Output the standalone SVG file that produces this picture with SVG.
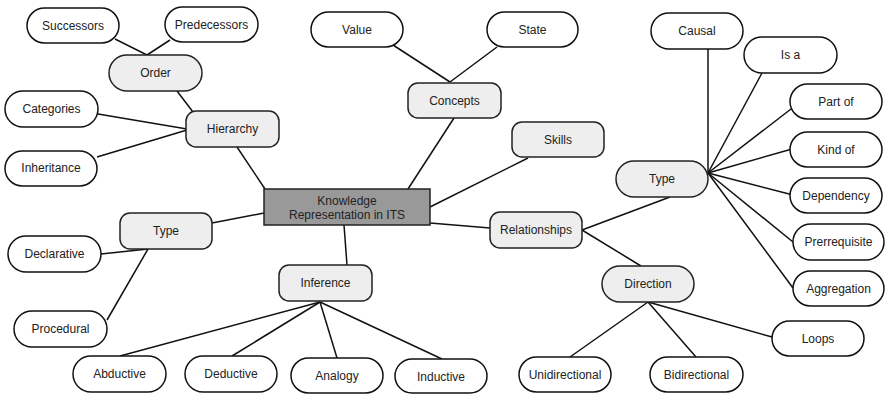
<svg xmlns="http://www.w3.org/2000/svg" width="885" height="394" viewBox="0 0 885 394">
<style>
.leaf{fill:#fff;stroke:#111;stroke-width:1.5}
.mid{fill:#eee;stroke:#222;stroke-width:1.5}
.root{fill:#999;stroke:#222;stroke-width:1.5}
text{font-family:"Liberation Sans",Arial,sans-serif;font-size:12px;fill:#222;text-anchor:middle}
#connectors line{stroke:#111;stroke-width:1.5}
</style>
<rect width="885" height="394" fill="#fff"/>
<g id="connectors">
<line x1="115" y1="39" x2="147" y2="55"/>
<line x1="170" y1="40" x2="147" y2="55"/>
<line x1="177" y1="91" x2="193" y2="112"/>
<line x1="98" y1="114" x2="187" y2="129"/>
<line x1="97" y1="157" x2="187" y2="130"/>
<line x1="237" y1="147" x2="265" y2="189"/>
<line x1="393" y1="45" x2="450" y2="82"/>
<line x1="497" y1="47" x2="450" y2="82"/>
<line x1="454" y1="118" x2="408" y2="189"/>
<line x1="528" y1="158" x2="430" y2="207"/>
<line x1="430" y1="223" x2="490" y2="228"/>
<line x1="212" y1="223" x2="264" y2="213"/>
<line x1="101" y1="254" x2="148" y2="249"/>
<line x1="107" y1="320" x2="148" y2="249"/>
<line x1="344" y1="225" x2="347" y2="265"/>
<line x1="320" y1="302" x2="120" y2="356"/>
<line x1="320" y1="302" x2="232" y2="356"/>
<line x1="320" y1="302" x2="337" y2="358"/>
<line x1="320" y1="302" x2="442" y2="359"/>
<line x1="582" y1="230" x2="670" y2="197"/>
<line x1="582" y1="230" x2="641" y2="266"/>
<line x1="708" y1="173" x2="708" y2="49"/>
<line x1="708" y1="173" x2="762" y2="73"/>
<line x1="708" y1="173" x2="791" y2="109"/>
<line x1="708" y1="173" x2="792" y2="149"/>
<line x1="708" y1="173" x2="793" y2="195"/>
<line x1="708" y1="173" x2="793" y2="242"/>
<line x1="708" y1="173" x2="793" y2="288"/>
<line x1="648" y1="302" x2="772" y2="337"/>
<line x1="648" y1="302" x2="696" y2="357"/>
<line x1="648" y1="302" x2="570" y2="357"/>
</g>
<g id="root"><rect class="root" x="264" y="189" width="166" height="36"/><text x="347" y="205">Knowledge</text><text x="347" y="219">Representation in ITS</text></g>
<g id="successors"><rect class="leaf" x="27" y="8" width="92" height="35" rx="17.5"/><text x="73" y="30">Successors</text></g>
<g id="predecessors"><rect class="leaf" x="165" y="7" width="93" height="35" rx="17.5"/><text x="211.5" y="29">Predecessors</text></g>
<g id="order"><rect class="mid" x="109" y="55" width="93" height="36" rx="18"/><text x="155.5" y="77">Order</text></g>
<g id="hierarchy"><rect class="mid" x="186" y="111" width="93" height="36" rx="10"/><text x="232.5" y="133">Hierarchy</text></g>
<g id="categories"><rect class="leaf" x="5" y="91" width="93" height="36" rx="18"/><text x="51.5" y="113">Categories</text></g>
<g id="inheritance"><rect class="leaf" x="5" y="151" width="92" height="35" rx="17.5"/><text x="51" y="172">Inheritance</text></g>
<g id="value"><rect class="leaf" x="311" y="12" width="92" height="35" rx="17.5"/><text x="357" y="34">Value</text></g>
<g id="state"><rect class="leaf" x="487" y="12" width="91" height="35" rx="17.5"/><text x="532.5" y="34">State</text></g>
<g id="concepts"><rect class="mid" x="408" y="83" width="93" height="35" rx="10"/><text x="454.5" y="105">Concepts</text></g>
<g id="skills"><rect class="mid" x="512" y="122" width="92" height="35" rx="10"/><text x="558" y="144">Skills</text></g>
<g id="relationships"><rect class="mid" x="490" y="212" width="92" height="36" rx="10"/><text x="536" y="234">Relationships</text></g>
<g id="type-right"><rect class="mid" x="616" y="161" width="92" height="36" rx="18"/><text x="662" y="183">Type</text></g>
<g id="causal"><rect class="leaf" x="651" y="13" width="92" height="36" rx="18"/><text x="697" y="35">Causal</text></g>
<g id="is-a"><rect class="leaf" x="744" y="37" width="93" height="36" rx="18"/><text x="790.5" y="59">Is a</text></g>
<g id="part-of"><rect class="leaf" x="790" y="84" width="92" height="35" rx="17.5"/><text x="836" y="106">Part of</text></g>
<g id="kind-of"><rect class="leaf" x="790" y="132" width="92" height="35" rx="17.5"/><text x="836" y="154">Kind of</text></g>
<g id="dependency"><rect class="leaf" x="790" y="178" width="92" height="35" rx="17.5"/><text x="836" y="200">Dependency</text></g>
<g id="prerrequisite"><rect class="leaf" x="793" y="224" width="91" height="36" rx="18"/><text x="838.5" y="246">Prerrequisite</text></g>
<g id="aggregation"><rect class="leaf" x="793" y="271" width="91" height="35" rx="17.5"/><text x="838.5" y="293">Aggregation</text></g>
<g id="direction"><rect class="mid" x="602" y="266" width="92" height="36" rx="18"/><text x="648" y="288">Direction</text></g>
<g id="loops"><rect class="leaf" x="772" y="321" width="92" height="35" rx="17.5"/><text x="818" y="343">Loops</text></g>
<g id="bidirectional"><rect class="leaf" x="650" y="357" width="93" height="35" rx="17.5"/><text x="696.5" y="379">Bidirectional</text></g>
<g id="unidirectional"><rect class="leaf" x="519" y="357" width="92" height="35" rx="17.5"/><text x="565" y="379">Unidirectional</text></g>
<g id="type-left"><rect class="mid" x="120" y="213" width="92" height="36" rx="10"/><text x="166" y="235">Type</text></g>
<g id="declarative"><rect class="leaf" x="8" y="236" width="93" height="36" rx="18"/><text x="54.5" y="258">Declarative</text></g>
<g id="procedural"><rect class="leaf" x="14" y="311" width="93" height="36" rx="18"/><text x="60.5" y="333">Procedural</text></g>
<g id="inference"><rect class="mid" x="279" y="265" width="93" height="36" rx="10"/><text x="325.5" y="287">Inference</text></g>
<g id="abductive"><rect class="leaf" x="73" y="356" width="93" height="36" rx="18"/><text x="119.5" y="378">Abductive</text></g>
<g id="deductive"><rect class="leaf" x="185" y="356" width="92" height="36" rx="18"/><text x="231" y="378">Deductive</text></g>
<g id="analogy"><rect class="leaf" x="291" y="358" width="92" height="35" rx="17.5"/><text x="337" y="380">Analogy</text></g>
<g id="inductive"><rect class="leaf" x="395" y="359" width="92" height="34" rx="17"/><text x="441" y="381">Inductive</text></g>
</svg>
